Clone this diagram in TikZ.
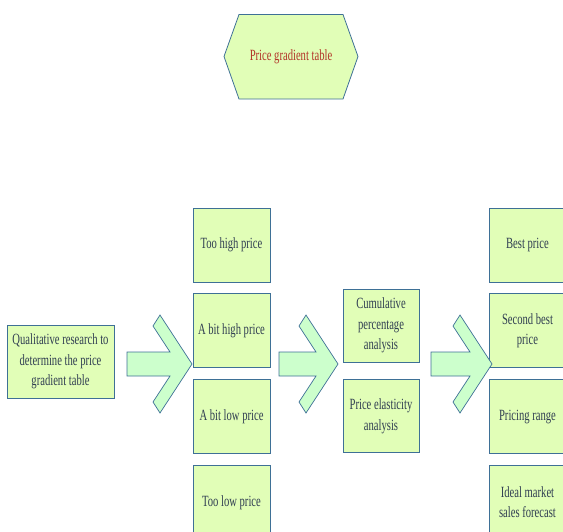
\documentclass[tikz,border=0pt]{standalone}
\usepackage{fontspec}
\setmainfont{Liberation Serif}[FakeStretch=0.68]
\usetikzlibrary{positioning}

\definecolor{boxfill}{RGB}{225,254,183}
\definecolor{boxline}{RGB}{62,112,150}
\definecolor{boxtext}{RGB}{48,62,82}
\definecolor{arrowfill}{RGB}{204,255,204}
\definecolor{titletext}{RGB}{178,52,40}

\begin{document}
\begin{tikzpicture}[
    x=1pt, y=-1pt,
    node distance=11pt,
    box/.style={rectangle, draw=boxline, line width=0.8pt, fill=boxfill, text=boxtext, align=center,
        minimum width=77pt, minimum height=74pt, inner sep=2pt, font=\fontsize{15.6}{20.5}\selectfont},
    hexa/.style={draw=boxline, line width=0.8pt, fill=boxfill},
    fatarrow/.style={draw=boxline, line width=0.7pt, fill=arrowfill, line join=miter}
]
\useasboundingbox (0,0) rectangle (563,531);

% title
\draw[hexa] (224,56.5) -- (239,14.5) -- (343,14.5) -- (358,56.5) -- (343,99) -- (239,99) -- cycle;
\node[text=titletext, font=\fontsize{15.6}{20.5}\selectfont] (title) at (291,56.5) {Price gradient table};

% start
\node[box, minimum width=107pt, minimum height=73pt] (research) at (60.5,361.5) {Qualitative research to\\determine the price\\gradient table};

% price levels
\node[box] (toohigh) at (231.5,245) {Too high price};
\node[box, below=of toohigh] (bithigh) {A bit high price};
\node[box, below=of bithigh] (bitlow) {A bit low price};
\node[box, below=of bitlow] (toolow) {Too low price};

% analysis
\node[box, minimum width=76pt, minimum height=73pt] (cumul) at (381,325.5) {Cumulative\\percentage\\analysis};
\node[box, minimum width=76pt, minimum height=73pt, below=17pt of cumul] (elastic) {Price elasticity\\analysis};

% results
\node[box] (best) at (527.5,245) {Best price};
\node[box, below=of best] (second) {Second best\\price};
\node[box, below=of second] (range) {Pricing range};
\node[box, below=of range] (forecast) {Ideal market\\sales forecast};

% big arrows
\foreach \tip/\tail in {192/127, 338/279, 492/431} {
  \draw[fatarrow] (\tail,352) -- (\tip-22,352) -- (\tip-39,326) -- (\tip-32,315) -- (\tip,364)
    -- (\tip-32,413) -- (\tip-39,402) -- (\tip-22,376) -- (\tail,376) -- cycle;
}

\end{tikzpicture}
\end{document}
